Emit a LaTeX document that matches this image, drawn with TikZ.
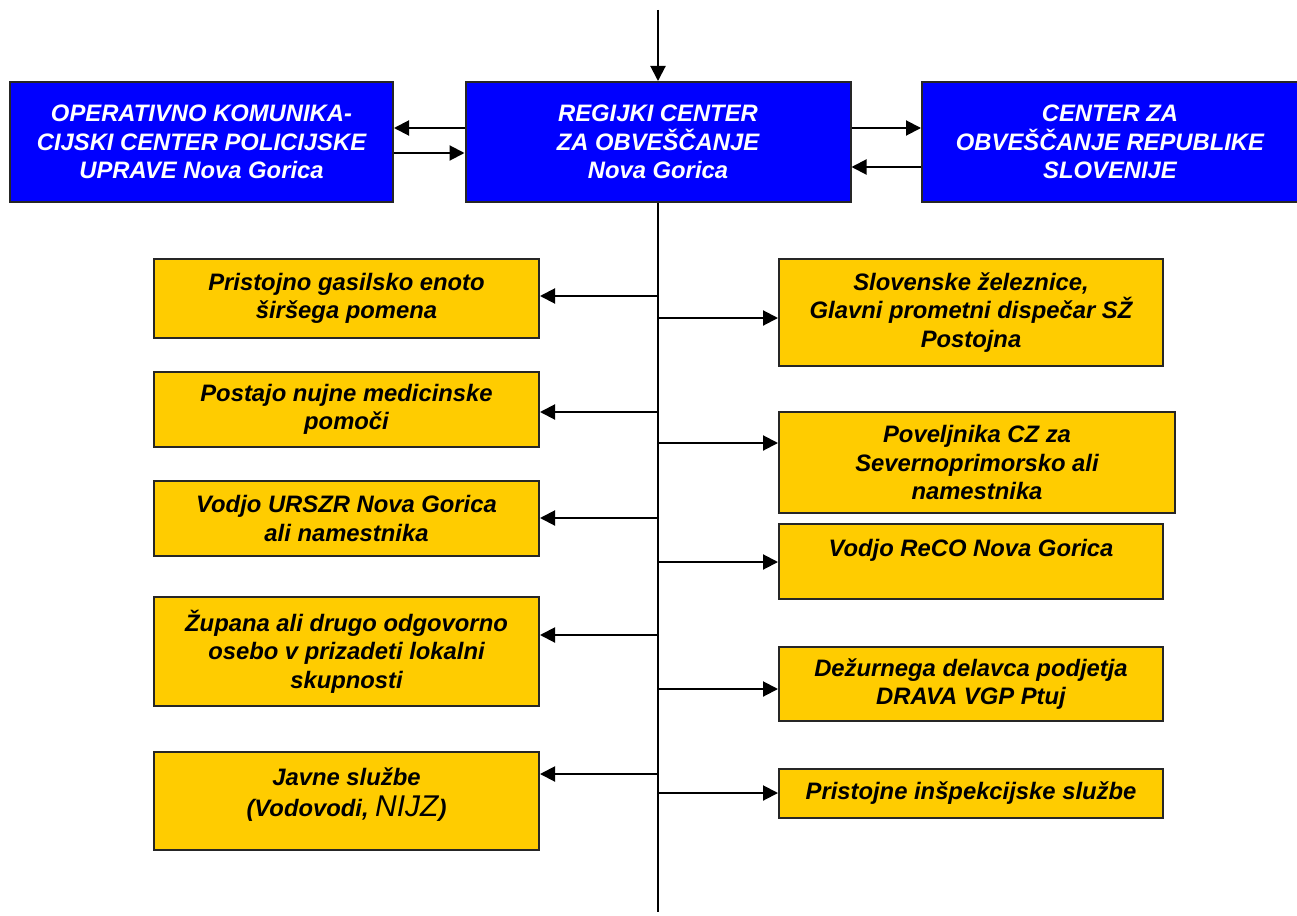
\documentclass[tikz,border=0pt]{standalone}
\usepackage{fontspec}
\setmainfont{Liberation Sans}
\usetikzlibrary{arrows.meta}
\definecolor{bboxc}{RGB}{0,0,255}
\definecolor{yboxc}{RGB}{255,204,0}
\begin{document}
\begin{tikzpicture}[x=1pt,y=-1pt,
 line width=2pt,
 arr/.style={-{Triangle[length=15pt,width=15pt]}, line width=2pt},
 box/.style={draw=black!85, line width=2pt, inner sep=0pt, align=center,
   font=\fontsize{23.8}{28.5}\selectfont\bfseries\itshape},
 bluebox/.style={box, fill=bboxc, text=white, minimum height=120pt},
 yelbox/.style={box, fill=yboxc, text=black},
]
\useasboundingbox (0,0) rectangle (1297,915);
% blue boxes
\node[bluebox, minimum width=383pt] (l) at (201.5,142) {OPERATIVNO KOMUNIKA-\\CIJSKI CENTER POLICIJSKE\\UPRAVE Nova Gorica};
\node[bluebox, minimum width=385pt] (c) at (658,142) {REGIJKI CENTER\\ZA OBVEŠČANJE\\Nova Gorica};
\node[bluebox, minimum width=376pt] (r) at (1110,142) {CENTER ZA\\OBVEŠČANJE REPUBLIKE\\SLOVENIJE};
% left yellow boxes
\node[yelbox, minimum width=385pt, minimum height=79pt] (l1) at (346.5,298.5) {Pristojno gasilsko enoto\\širšega pomena};
\node[yelbox, minimum width=385pt, minimum height=75pt] (l2) at (346.5,409.5) {Postajo nujne medicinske\\pomoči};
\node[yelbox, minimum width=385pt, minimum height=75pt] (l3) at (346.5,518.5) {Vodjo URSZR Nova Gorica\\ali namestnika};
\node[yelbox, minimum width=385pt, minimum height=109pt] (l4) at (346.5,651.5) {Župana ali drugo odgovorno\\osebo v prizadeti lokalni\\skupnosti};
\node[yelbox, minimum width=385pt, minimum height=98pt] (l5) at (346.5,801) {\raisebox{6pt}[\height][\depth]{\begin{tabular}{@{}c@{}}Javne službe\\[2pt](Vodovodi, {\mdseries\fontsize{30}{34}\selectfont NIJZ})\end{tabular}}};
% right yellow boxes
\node[yelbox, minimum width=384pt, minimum height=107pt] (r1) at (971,312.5) {Slovenske železnice,\\Glavni prometni dispečar SŽ\\Postojna};
\node[yelbox, minimum width=396pt, minimum height=101pt] (r2) at (977,462.5) {Poveljnika CZ za\\Severnoprimorsko ali\\namestnika};
\node[yelbox, minimum width=384pt, minimum height=75pt] (r3) at (971,561.5) {\raisebox{11pt}[\height][\depth]{Vodjo ReCO Nova Gorica}};
\node[yelbox, minimum width=384pt, minimum height=74pt] (r4) at (971,684) {Dežurnega delavca podjetja\\DRAVA VGP Ptuj};
\node[yelbox, minimum width=384pt, minimum height=49pt] (r5) at (971,793.5) {Pristojne inšpekcijske službe};
% top and bottom of trunk
\coordinate (top) at (658,10);
\coordinate (bot) at (658,912);
\draw[arr] (top) -- (c.north);
\draw (c.south) -- (bot);
% arrows between blue boxes
\coordinate (ya) at (0,128);
\coordinate (yb) at (0,153);
\coordinate (yc) at (0,167);
\draw[arr] (c.west |- ya) -- (l.east |- ya);
\draw[arr] (l.east |- yb) -- (c.west |- yb);
\draw[arr] (c.east |- ya) -- (r.west |- ya);
\draw[arr] (r.west |- yc) -- (c.east |- yc);
% trunk branch points
\coordinate (tl1) at (658,296);
\coordinate (tl2) at (658,412);
\coordinate (tl3) at (658,518);
\coordinate (tl4) at (658,635);
\coordinate (tl5) at (658,774);
\coordinate (tr1) at (658,318);
\coordinate (tr2) at (658,443);
\coordinate (tr3) at (658,562);
\coordinate (tr4) at (658,689);
\coordinate (tr5) at (658,793);
\foreach \i in {1,...,5}{
  \draw[arr] (tl\i) -- (tl\i -| l\i.east);
  \draw[arr] (tr\i) -- (tr\i -| r\i.west);
}
\end{tikzpicture}
\end{document}
